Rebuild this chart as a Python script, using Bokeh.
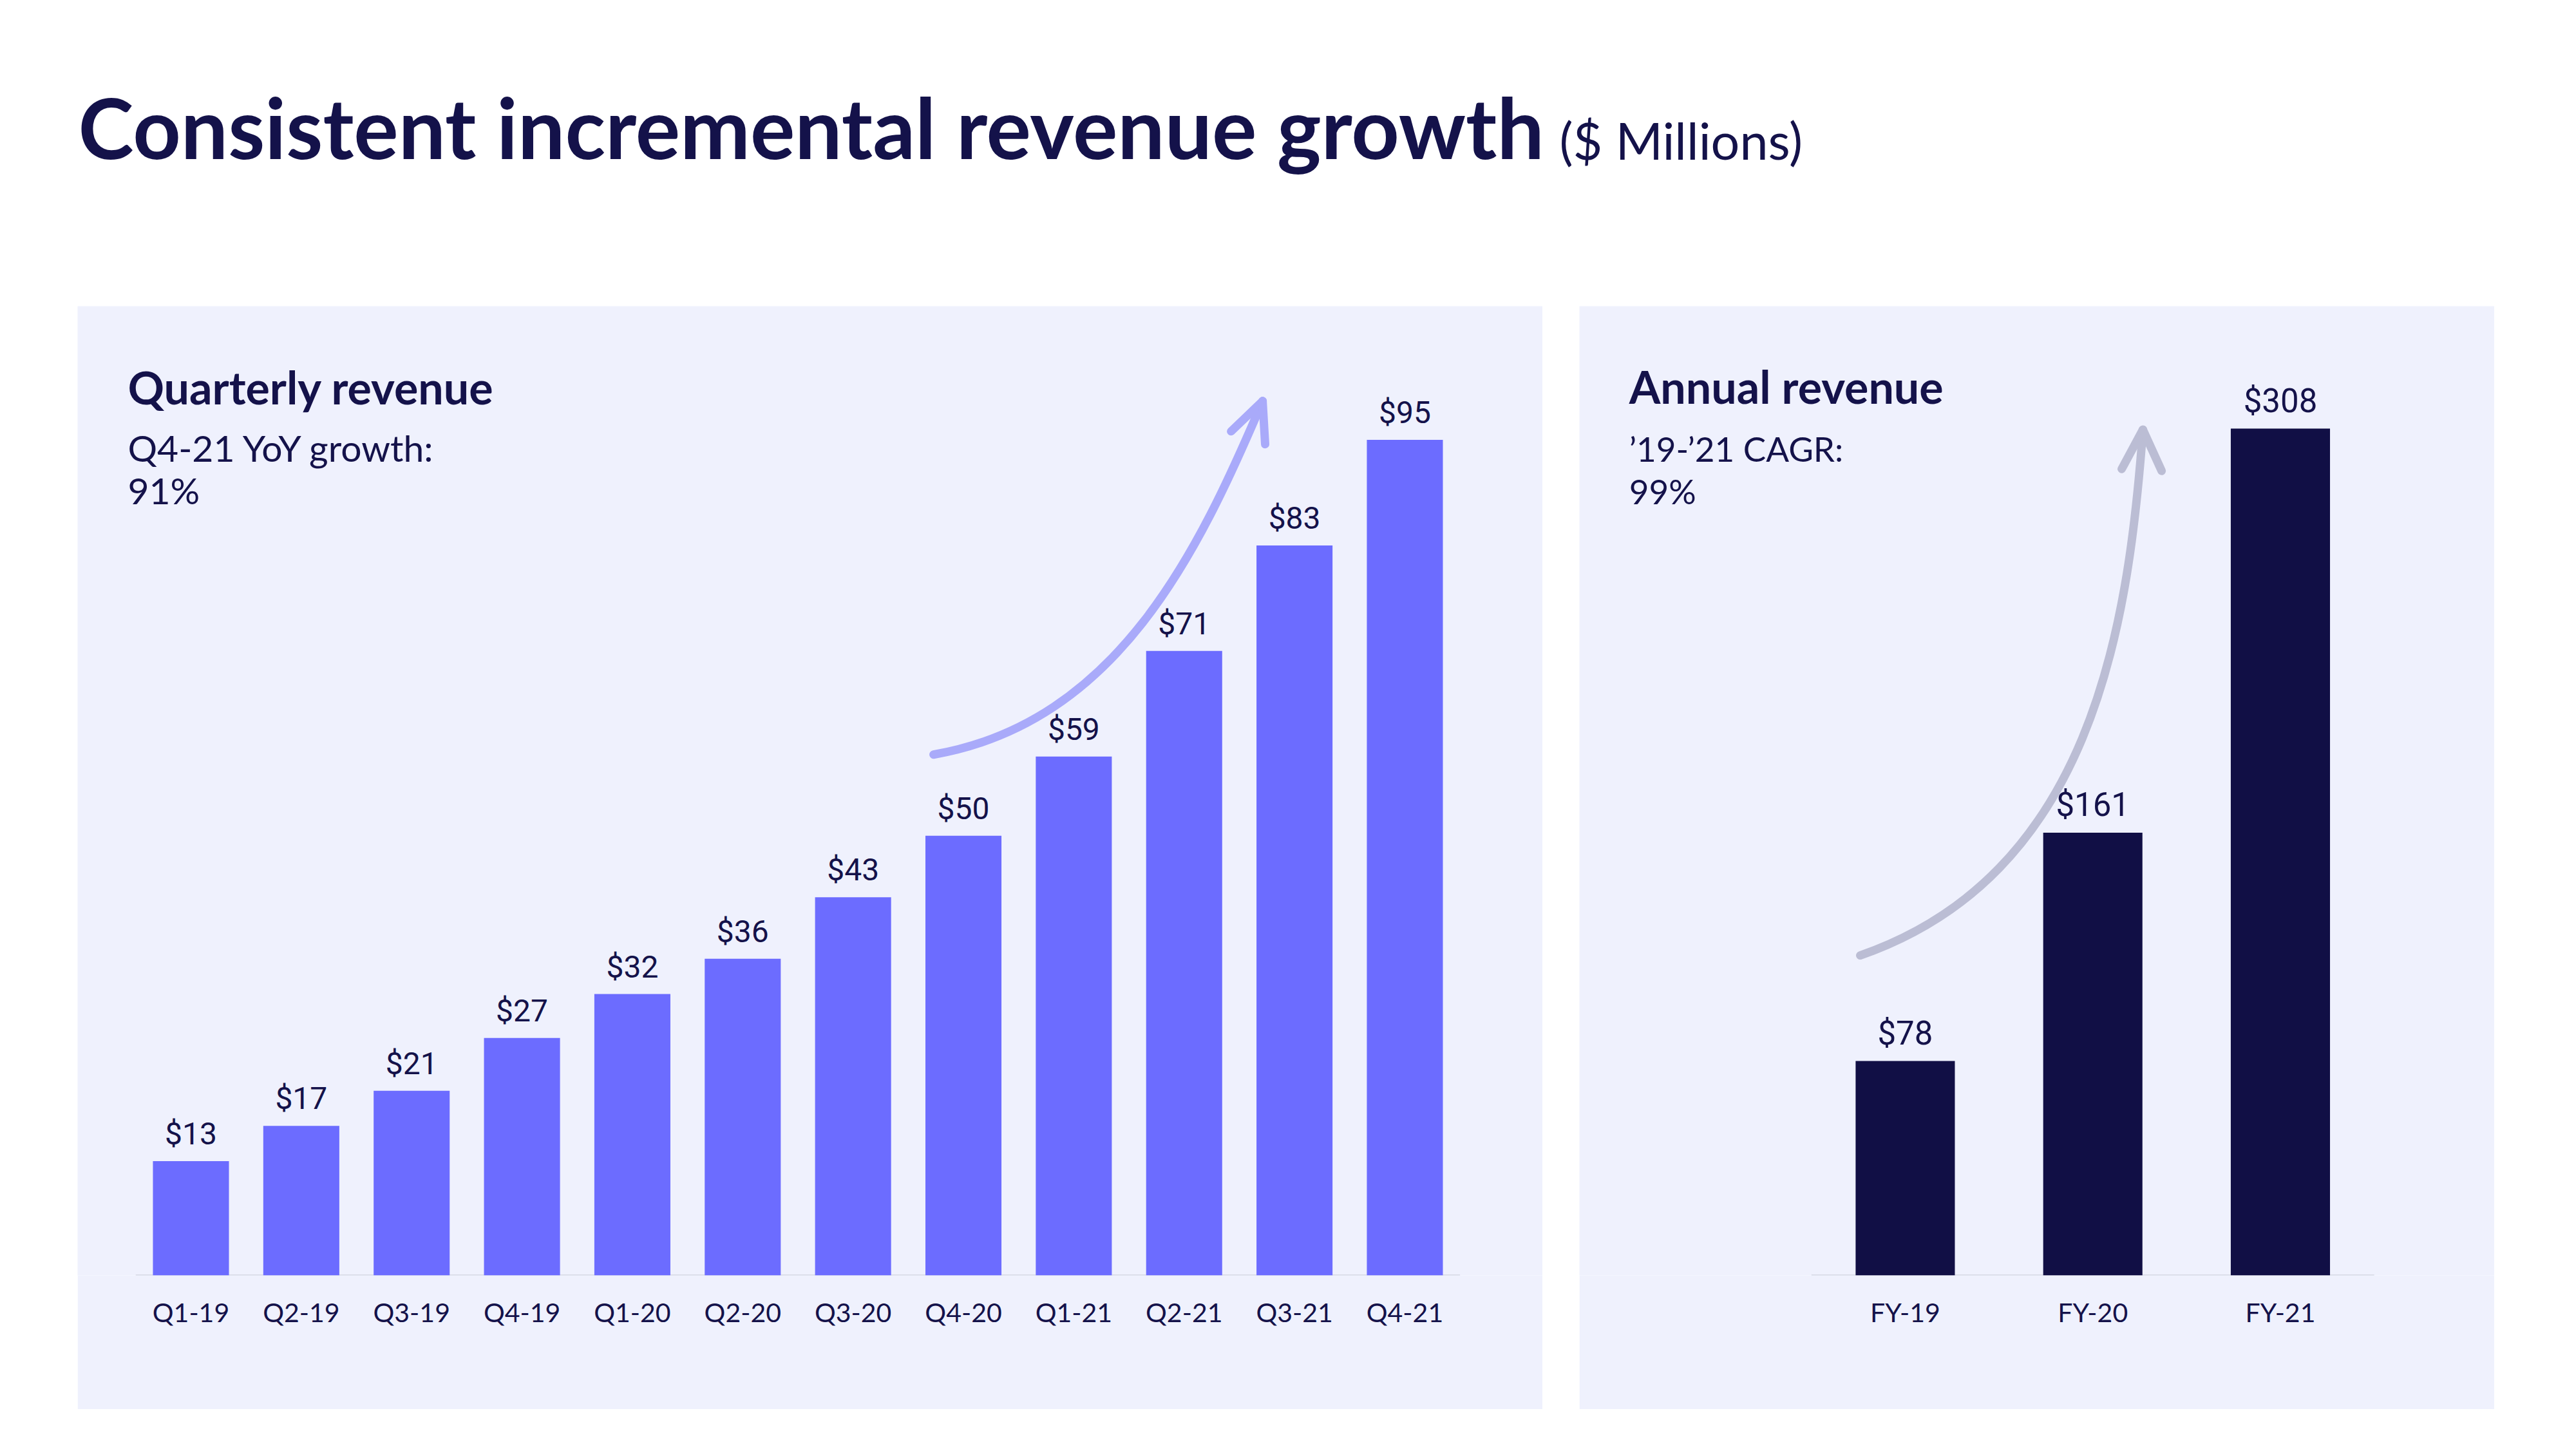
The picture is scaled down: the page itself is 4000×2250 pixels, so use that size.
from bokeh.plotting import figure
from bokeh.models import ColumnDataSource, Range1d, FixedTicker, Spacer
from bokeh.layouts import column, row
from bokeh.embed import file_html
from bokeh.resources import INLINE
from bokeh.core.properties import value

# ---------------- data ----------------
quarters = ["Q1-19", "Q2-19", "Q3-19", "Q4-19", "Q1-20", "Q2-20",
            "Q3-20", "Q4-20", "Q1-21", "Q2-21", "Q3-21", "Q4-21"]
quarterly_revenue = [13, 17, 21, 27, 32, 36, 43, 50, 59, 71, 83, 95]

years = ["FY-19", "FY-20", "FY-21"]
annual_revenue = [78, 161, 308]

title_main = "Consistent incremental revenue growth"
title_unit = "($ Millions)"
q_heading = "Quarterly revenue"
q_sub = ["Q4-21 YoY growth:", "91%"]
a_heading = "Annual revenue"
a_sub = ["\u201919-\u201921 CAGR:", "99%"]

# ---------------- style ----------------
NAVY = "#14124A"
PANEL = "#EFF1FD"
Q_BAR = "#6C6CFF"
A_BAR = "#110F45"
Q_ARROW = "#A9AAFA"
A_ARROW = "#BBBDD4"
AXIS = "#D5D8E4"
FONT = "Lato"
NUM_FONT = "Roboto"

PAGE_W = 3984
TITLE_H = 475
PANEL_H = 1713
BOTTOM = 208
K_LATO = 0.4      # baseline compensation (fraction of font size)
K_NUM = 0.3


def panel(width, n, x_range, y_range, labels):
    p = figure(width=width, height=PANEL_H,
               x_range=Range1d(*x_range), y_range=Range1d(*y_range),
               output_backend="svg", toolbar_location=None,
               y_axis_location=None,
               min_border_left=0, min_border_right=0, min_border_top=0,
               min_border_bottom=BOTTOM,
               background_fill_color=PANEL, border_fill_color=PANEL,
               outline_line_color=None)
    p.title = None
    p.grid.visible = False
    ax = p.xaxis[0]
    ax.ticker = FixedTicker(ticks=list(range(n)))
    ax.major_label_overrides = {i: lab for i, lab in enumerate(labels)}
    ax.axis_line_color = None
    ax.major_tick_line_color = None
    ax.minor_tick_line_color = None
    ax.major_tick_out = 0
    ax.major_tick_in = 0
    ax.major_label_standoff = 32
    ax.major_label_text_font = FONT
    ax.major_label_text_font_size = "41px"
    ax.major_label_text_color = NAVY
    # baseline
    p.segment(x0=[-0.5], y0=[0], x1=[n - 0.5], y1=[0],
              line_color=AXIS, line_width=3)
    return p


def heading(p, x, ys, texts, size, bold=False):
    p.text(x=[x] * len(ys), y=ys, text=texts, text_font=value(FONT),
           text_font_style="bold" if bold else "normal",
           text_font_size=f"{size}px", text_color=NAVY,
           text_baseline="alphabetic", y_offset=-K_LATO * size)


# ---------------- title ----------------
t = figure(width=PAGE_W, height=TITLE_H, x_range=Range1d(0, PAGE_W),
           y_range=Range1d(TITLE_H, 0), output_backend="svg",
           toolbar_location=None, x_axis_location=None, y_axis_location=None,
           min_border=0, min_border_left=0, min_border_right=0,
           min_border_top=0, min_border_bottom=0,
           background_fill_color="white", border_fill_color="white",
           outline_line_color=None)
t.title = None
t.grid.visible = False
t.text(x=[121], y=[248], text=[title_main], text_font=value(FONT),
       text_font_style="bold", text_font_size="130px", text_color=NAVY,
       text_baseline="alphabetic", text_align="left", y_offset=-K_LATO * 130)
t.text(x=[2421], y=[249], text=[title_unit], text_font=value(FONT),
       text_font_size="79px", text_color=NAVY,
       text_baseline="alphabetic", text_align="left", y_offset=-K_LATO * 79)

# ---------------- quarterly panel ----------------
nq = len(quarters)
q = panel(2275, nq, (-1.027, 12.249), (0, 110.2), quarters)
qsrc = ColumnDataSource(dict(x=list(range(nq)), rev=quarterly_revenue,
                             name=quarters,
                             label=[f"${v}" for v in quarterly_revenue]))
q.vbar(x="x", top="rev", bottom=0, width=0.689, source=qsrc,
       fill_color=Q_BAR, line_color=None)
q.text(x="x", y="rev", text="label", source=qsrc, y_offset=-(28 + K_NUM * 48),
       text_align="center", text_baseline="alphabetic",
       text_font=value(NUM_FONT), text_font_size="48px", text_color=NAVY)
# growth arrow (decoration)
q.bezier(x0=[6.729], y0=[59.22], x1=[9.711], y1=[99.41],
         cx0=[8.398], cy0=[62.88], cx1=[9.133], cy1=[82.36],
         line_color=Q_ARROW, line_width=13, line_cap="round")
q.segment(x0=[9.711, 9.711], y0=[99.41, 99.41], x1=[9.425, 9.734],
          y1=[95.97, 94.51], line_color=Q_ARROW, line_width=13,
          line_cap="round")
heading(q, -0.572, [98.97], [q_heading], 70, bold=True)
heading(q, -0.572, [92.46, 87.63], q_sub, 57)

# ---------------- annual panel ----------------
na = len(years)
a = panel(1421, na, (-1.737, 3.1416), (0, 352.5), years)
asrc = ColumnDataSource(dict(x=list(range(na)), rev=annual_revenue,
                             name=years,
                             label=[f"${v}" for v in annual_revenue]))
a.bezier(x0=[-0.240], y0=[116.4], x1=[1.267], y1=[307.6],
         cx0=[0.985], cy0=[145.5], cx1=[1.188], cy1=[233.8],
         line_color=A_ARROW, line_width=13, line_cap="round")
a.segment(x0=[1.267, 1.267], y0=[307.6, 307.6], x1=[1.154, 1.367],
          y1=[293.3, 292.6], line_color=A_ARROW, line_width=13,
          line_cap="round")
a.vbar(x="x", top="rev", bottom=0, width=0.529, source=asrc,
       fill_color=A_BAR, line_color=None)
a.text(x="x", y="rev", text="label", source=asrc, y_offset=-(28 + K_NUM * 51),
       text_align="center", text_baseline="alphabetic",
       text_font=value(NUM_FONT), text_font_size="51px", text_color=NAVY)
heading(a, -1.472, [316.7], [a_heading], 70, bold=True)
heading(a, -1.472, [295.85, 280.4], a_sub, 53)

layout = column(
    t,
    row(Spacer(width=120, height=PANEL_H), q,
        Spacer(width=57, height=PANEL_H), a),
)

open("out.html", "w").write(file_html(layout, INLINE))
